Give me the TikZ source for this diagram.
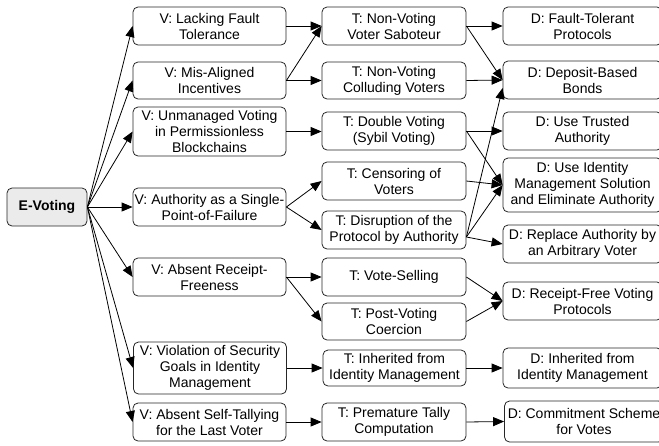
\documentclass[tikz,border=0pt]{standalone}
\usepackage{fontspec}
\setmainfont{Liberation Sans}
\usetikzlibrary{arrows.meta}
\begin{document}
\begin{tikzpicture}[x=1pt,y=-1pt,
  box/.style={draw=black!85, line width=0.8pt, rounded corners=5pt,
    align=center, inner xsep=0pt, inner ysep=1pt,
    font=\fontsize{14}{16}\selectfont},
  vbox/.style={box, minimum width=153pt},
  tbox/.style={box, minimum width=144pt},
  dbox/.style={box, minimum width=159pt},
  root/.style={box, fill=black!8, minimum width=80pt, minimum height=38pt,
    font=\fontsize{14}{16}\selectfont\bfseries},
  link/.style={line width=0.8pt, draw=black,
    -{Triangle[length=11pt,width=9pt]}}
]
\clip (0,0) rectangle (659,445);

% root
\node[root] (E) at (47,207) {E-Voting};

% vulnerabilities
\node[vbox, minimum height=38pt] (V1) at (209.5,26)    {V: Lacking Fault\\Tolerance};
\node[vbox, minimum height=37pt] (V2) at (209.5,80.5)  {V: Mis-Aligned\\Incentives};
\node[vbox, minimum height=49pt] (V3) at (209.5,131.5) {V: Unmanaged Voting\\in Permissionless\\Blockchains};
\node[vbox, minimum height=38pt] (V4) at (209.5,207)   {V: Authority as a Single-\\Point-of-Failure};
\node[vbox, minimum height=38pt] (V5) at (209.5,277)   {V: Absent Receipt-\\Freeness};
\node[vbox, minimum height=52pt] (V6) at (210,368)     {V: Violation of Security\\Goals in Identity\\Management};
\node[vbox, minimum height=38pt] (V7) at (209.5,422)   {V: Absent Self-Tallying\\for the Last Voter};

% threats
\node[tbox, minimum height=38pt] (T1) at (394,26)    {T: Non-Voting\\Voter Saboteur};
\node[tbox, minimum height=37pt] (T2) at (394,80.5)  {T: Non-Voting\\Colluding Voters};
\node[tbox, minimum height=38pt] (T3) at (394,131)   {T: Double Voting\\(Sybil Voting)};
\node[tbox, minimum height=38pt] (T4) at (394,181)   {T: Censoring of\\Voters};
\node[tbox, minimum height=38pt] (T5) at (394,230)   {T: Disruption of the\\Protocol by Authority};
\node[tbox, minimum height=38pt] (T6) at (394,277)   {T: Vote-Selling};
\node[tbox, minimum height=37pt] (T7) at (394,321.5) {T: Post-Voting\\Coercion};
\node[tbox, minimum height=36pt, minimum width=143pt] (T8) at (394.5,368) {T: Inherited from\\Identity Management};
\node[tbox, minimum height=38pt] (T9) at (394,422)   {T: Premature Tally\\Computation};

% defenses
\node[dbox, minimum height=38pt] (D1) at (582.5,26)    {D: Fault-Tolerant\\Protocols};
\node[dbox, minimum height=38pt] (D2) at (582.5,80)    {D: Deposit-Based\\Bonds};
\node[dbox, minimum height=38pt] (D3) at (582.5,131)   {D: Use Trusted\\Authority};
\node[dbox, minimum height=54pt] (D4) at (582.5,185)   {D: Use Identity\\Management Solution\\and Eliminate Authority};
\node[dbox, minimum height=38pt] (D5) at (582.5,244)   {D: Replace Authority by\\an Arbitrary Voter};
\node[dbox, minimum height=38pt] (D6) at (582.5,301)   {D: Receipt-Free Voting\\Protocols};
\node[dbox, minimum height=40pt] (D7) at (582.5,368)   {D: Inherited from\\Identity Management};
\node[dbox, minimum height=41pt] (D8) at (584,421.5)   {D: Commitment Scheme\\for Votes};

% root to vulnerabilities
\foreach \v in {V1,V2,V3,V4,V5,V6,V7}
  \draw[link] (E.east) -- (\v.west);

% vulnerabilities to threats
\draw[link] (V1.east) -- (T1.west);
\draw[link] (V2.east) -- (T1.west);
\draw[link] (V2.east) -- (T2.west);
\draw[link] (V3.east) -- (V3.east -| T3.west);
\draw[link] (V4.east) -- (T4.west);
\draw[link] (V4.east) -- (T5.west);
\draw[link] (V5.east) -- (T6.west);
\draw[link] (V5.east) -- (T7.west);
\draw[link] (V6.east) -- (T8.west);
\draw[link] (V7.east) -- (T9.west);

% threats to defenses
\draw[link] (T1.east) -- (D1.west);
\draw[link] (T1.east) -- (D2.west);
\draw[link] (T2.east) -- (D2.west);
\draw[link] (T3.east) -- (D3.west);
\draw[link] (T3.east) -- (D4.west);
\draw[link] (T4.east) -- (D4.west);
\draw[link] ([yshift=-7pt]T5.east) -- ([yshift=-8pt]D2.west);
\draw[link] ([yshift=-7pt]T5.east) -- (D4.west);
\draw[link] ([yshift=-7pt]T5.east) -- (D5.west);
\draw[link] (T6.east) -- (D6.west);
\draw[link] (T7.east) -- (D6.west);
\draw[link] (T8.east) -- (D7.west);
\draw[link] (T9.east) -- (D8.west);
\end{tikzpicture}
\end{document}
